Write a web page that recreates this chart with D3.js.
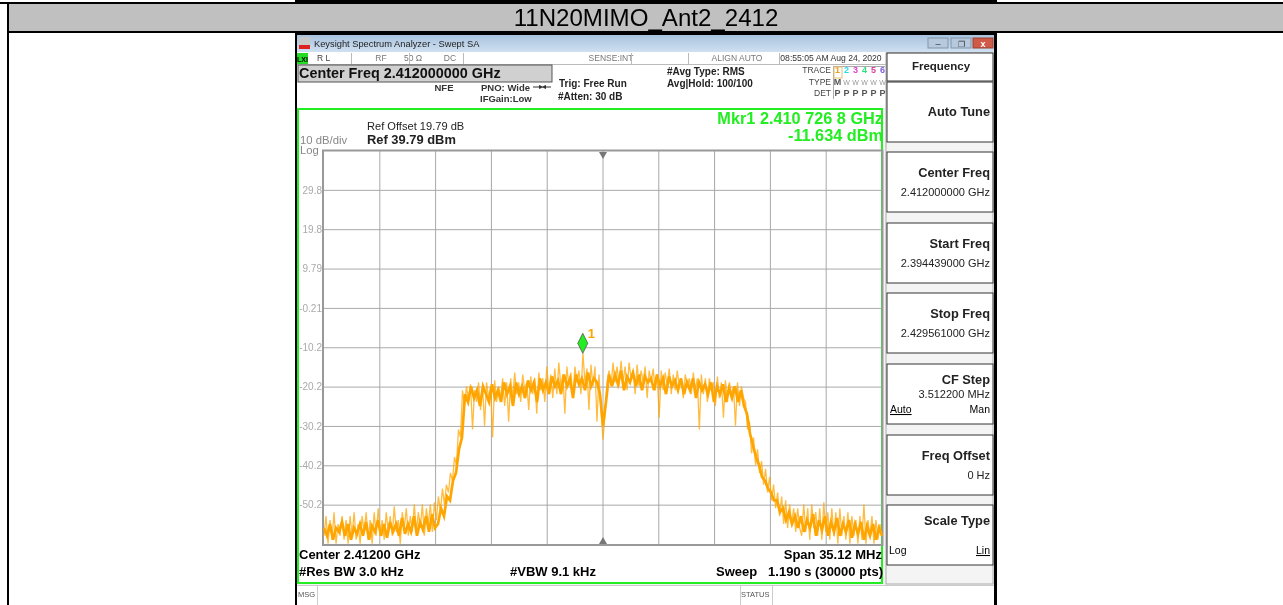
<!DOCTYPE html>
<html><head><meta charset="utf-8">
<script src="https://cdnjs.cloudflare.com/ajax/libs/d3/7.8.5/d3.min.js"></script>
<style>html,body{margin:0;padding:0;background:#fff;overflow:hidden}svg{display:block;filter:blur(0.3px)}text{font-family:"Liberation Sans",Arial,sans-serif;white-space:pre}</style>
</head><body><svg id="c" width="1283" height="605"></svg>
<script>
const chartTitle="11N20MIMO_Ant2_2412";
const yTickValues=[29.79,19.79,9.79,-0.21,-10.21,-20.21,-30.21,-40.21,-50.21];
const yTickLabels=["29.8","19.8","9.79","-0.21","-10.2","-20.2","-30.2","-40.2","-50.2"];
const xTickMHz=[2397.952,2401.464,2404.976,2408.488,2412,2415.512,2419.024,2422.536,2426.048];
const softKeys=[["Auto Tune",""],["Center Freq","2.412000000 GHz"],["Start Freq","2.394439000 GHz"],["Stop Freq","2.429561000 GHz"],["CF Step","3.512200 MHz"],["Freq Offset","0 Hz"],["Scale Type",""]];
const markerMHz=2410.7268, markerDb=-11.634;
const floorLeft=[-58,-53,-60,-54,-59,-52,-60,-55,-58,-53,-59,-54,-60,-53,-58,-52,-59,-55,-60,-53,-57,-52,-59,-54,-60,-52,-58,-51,-58,-54,-59,-52,-57,-53,-58,-50.5,-57,-54,-60,-52,-56,-51,-58,-53,-57,-50,-57,-52,-56,-50,-58,-51,-55,-50,-57,-49.5];
const riseLeft=[-54,-48,-52,-46,-50,-45,-47,-42,-44,-38,-40,-31,-33];
const plateau=[-21,-25,-20,-24,-19.5,-31,-21,-24,-19,-26,-20,-30,-19,-23,-20,-33,-18.5,-24,-20,-23,-18,-25,-19,-29,-18,-23,-16.5,-22,-19,-24,-17,-21,-19,-26,-17.5,-22,-18,-27,-16.5,-21,-18,-24,-15,-21,-17,-23,-15.5,-22,-14,-20,-17,-27,-15,-20,-16.5,-23,-15,-19,-16,-22,-11.634,-19,-15.5,-26,-14.5,-20,-15,-29,-17,-26,-33.6,-27,-19,-16,-20,-14,-19,-15,-20,-13.5,-19,-15,-21,-14,-18,-16,-22,-14.5,-20,-16,-19,-15,-23,-16,-19,-15.5,-21,-17,-28,-16,-21,-16.5,-20,-15.5,-22,-17,-21,-16,-20,-18,-23,-17,-20,-18,-22,-16.5,-21,-18,-31,-17,-22,-18,-24,-18,-21,-19,-25,-17.5,-23,-19,-28,-18.5,-24,-19,-22,-20,-30,-19,-25,-20,-23];
const fallRight=[-24,-31,-29,-37,-33,-40,-36,-42,-39,-45,-41,-47,-43,-49,-45,-51,-47,-53,-48,-55,-49,-56,-50,-55,-51,-57,-51,-56];
const floorRight=[-58,-50,-57,-51,-59,-50,-56,-52,-58,-51,-59,-49.5,-57,-52,-59,-51,-58,-52,-60,-51,-58,-53,-59,-52,-60,-53,-58,-54,-60,-53,-59,-50,-60,-54,-58,-53,-60,-54,-59,-55,-58];
const traceDb=[...floorLeft,...riseLeft,...plateau,...fallRight,...floorRight];
// a second, narrower reading of the trace's dense core
const coreFloorLeft=[-56,-58,-55,-59,-56,-57,-54.5,-58,-55,-59,-56,-57.5,-55,-58,-54.5,-59,-55.5,-57,-54,-58,-55,-58.5,-54.5,-57,-55,-58,-53.5,-57.5,-55,-57,-53,-58,-54.5,-56.5,-53,-57,-52.5,-56];
const coreRise=[-55,-51,-53,-48,-49,-44,-42,-36,-33];
const corePlateau=[-22,-24,-20,-23,-21,-25,-20,-22,-24,-19.5,-23,-21,-24,-19,-22,-20,-25,-19,-22,-20,-23,-18.5,-21,-19,-24,-18,-21,-19,-22,-17.5,-20,-18.5,-22,-17,-20,-18,-23,-17,-19.5,-18,-21,-16.5,-20,-18,-19,-22,-30,-24,-17,-20,-17,-19.5,-16,-21,-17.5,-19,-16.5,-20,-17,-21,-17.5,-19,-18,-21,-17,-20,-18,-22,-17.5,-20,-18.5,-21,-18,-22,-19,-21,-18,-23,-19,-21,-19.5,-22,-19,-24,-20,-22,-19.5,-24,-20.5,-23,-20,-24,-21,-25];
const coreFall=[-27,-32,-35,-38,-40,-43,-44,-46,-47,-49,-49,-52,-51,-54,-52,-55,-53,-56];
const coreFloorRight=[-53,-57,-54,-56,-52.5,-58,-54,-56.5,-53,-58,-54.5,-57,-53.5,-58,-55,-57,-54,-58.5,-55,-57.5,-54.5,-59,-55.5,-58,-55,-59,-56,-58];
const coreDb=[...coreFloorLeft,...coreRise,...corePlateau,...coreFall,...coreFloorRight];
const startMHz=2394.439, stopMHz=2429.561, refDb=39.79, botDb=-60.21;

const svg=d3.select("#c");
const R=(x,y,w,h,f,s,sw)=>svg.append("rect").attr("x",x).attr("y",y).attr("width",w).attr("height",h).attr("fill",f||"none").attr("stroke",s||"none").attr("stroke-width",sw||0);
const T=(x,y,t,o={})=>svg.append("text").attr("x",x).attr("y",y).text(t).attr("font-size",o.s||11).attr("font-weight",o.b?"bold":"normal").attr("fill",o.c||"#000").attr("text-anchor",o.a||"start").attr("text-decoration",o.u?"underline":null);

// page table
R(8,3,1275,28,"#c0c0c0");
R(0,2,1283,2,"#000"); R(8,31,1275,2,"#000"); R(7,2,2,603,"#000");
T(646,26,chartTitle,{s:24.1,a:"middle"});
// screenshot frame
R(295,0,702,2,"#000"); R(295,33,702,2,"#000");
R(295,33,2,572,"#000"); R(994,33,3,572,"#000");
R(297,35,697,570,"#f4f4f4");
// title bar
const g=svg.append("defs").append("linearGradient").attr("id","tb").attr("x1",0).attr("x2",0).attr("y1",0).attr("y2",1);
g.append("stop").attr("offset",0).attr("stop-color","#a9c3de"); g.append("stop").attr("offset",1).attr("stop-color","#cfe0f1");
R(297,35,697,17,"url(#tb)");
R(299,37,11,12,"#c9c9c9"); R(299,45,11,4,"#e02020");
T(314,47,"Keysight Spectrum Analyzer - Swept SA",{s:9.3,c:"#222"});
R(928,38,20,10,"#b7c9dc","#8296ab",1); R(951,38,20,10,"#b7c9dc","#8296ab",1); R(973,38,20,10,"#cf5a48","#9c4030",1);
T(938,47,"–",{s:9,a:"middle",c:"#333"}); T(961,47,"❐",{s:8,a:"middle",c:"#333"}); T(983,47,"x",{s:9,a:"middle",c:"#fff",b:1});
// status strip
R(297,52,697,13,"#ffffff");
R(297,64,590,1,"#bbb");
R(297,53,11,11,"#22dd22");
T(302.5,62,"LXI",{s:7,a:"middle",b:1});
T(317,61,"R L",{s:8.5,c:"#444"});
T(381,61,"RF",{s:8.5,a:"middle",c:"#777"});
T(413,61,"50 Ω",{s:8.5,a:"middle",c:"#777"}); T(450,61,"DC",{s:8.5,a:"middle",c:"#777"});
T(611,61,"SENSE:INT",{s:8.5,a:"middle",c:"#777"});
T(737,61,"ALIGN AUTO",{s:8.5,a:"middle",c:"#777"});
T(831,61,"08:55:05 AM Aug 24, 2020",{s:8.6,a:"middle",c:"#333"});
[351,409,463,631,688,779].forEach(x=>R(x,53,1,11,"#bbb"));
R(297,65,590,43,"#fff");
R(298,65,254,17,"#d0d0d0","#555",1);
T(299,78,"Center Freq 2.412000000 GHz",{s:14.4,b:1,c:"#111"});
T(444,91,"NFE",{s:9.5,a:"middle",b:1,c:"#333"});
T(481,91,"PNO: Wide",{s:9.5,b:1,c:"#333"}); T(480,102,"IFGain:Low",{s:9.5,b:1,c:"#333"});
svg.append("line").attr("x1",533).attr("x2",551).attr("y1",87).attr("y2",87).attr("stroke","#333");
svg.append("path").attr("d","M539,85L544,87L539,89Z M546,85L541,87L546,89Z").attr("fill","#333");
T(559,87,"Trig: Free Run",{s:10,b:1,c:"#222"}); T(558,100,"#Atten: 30 dB",{s:10,b:1,c:"#222"});
T(667,75,"#Avg Type: RMS",{s:10,b:1,c:"#222"}); T(667,87,"Avg|Hold: 100/100",{s:10,b:1,c:"#222"});
T(831,73,"TRACE",{s:8.5,a:"end",c:"#444"}); T(831,85,"TYPE",{s:8.5,a:"end",c:"#444"}); T(831,96,"DET",{s:8.5,a:"end",c:"#444"});
["#e8a020","#22ddee","#e040d0","#30e080","#e040a0","#8060e0"].forEach((c,i)=>{
 T(837.5+i*9,73,i+1,{s:9,a:"middle",c,b:1});
 T(837.5+i*9,96,"P",{s:9,a:"middle",c:"#555",b:1});
 T(837.5+i*9,85,i?"W":"M",{s:i?7:9,a:"middle",c:i?"#999":"#555",b:!i});
});
R(833,66,52,1,"#aaa"); R(833,66,1,33,"#aaa");R(834,67,8,11,"none","#e8c070",1);

// analyzer frame
R(298,109,584,474,"#fff","#22ee22",2);
T(367,130,"Ref Offset 19.79 dB",{s:11.1,c:"#222"});
T(367,144,"Ref 39.79 dBm",{s:12.9,b:1,c:"#222"});
T(300,144,"10 dB/div",{s:11.3,c:"#888"}); T(300,154,"Log",{s:11.3,c:"#888"});
T(883,124,"Mkr1 2.410 726 8 GHz",{s:16.3,b:1,c:"#22ee22",a:"end"});
T(883,141,"-11.634 dBm",{s:16.3,b:1,c:"#22ee22",a:"end"});

// plot
const x=d3.scaleLinear().domain([startMHz,stopMHz]).range([324,882]);
const y=d3.scaleLinear().domain([refDb,botDb]).range([151,544.5]);
const idx=d3.scaleLinear().domain([0,traceDb.length-1]).range([startMHz,stopMHz]);
const cidx=d3.scaleLinear().domain([0,coreDb.length-1]).range([startMHz,stopMHz]);
const gy=svg.append("g").attr("transform","translate(324,0)").call(d3.axisLeft(y).tickValues(yTickValues).tickFormat((d,i)=>yTickLabels[i]).tickSize(-558).tickPadding(2).offset(0));
const gx=svg.append("g").attr("transform","translate(0,544.5)").call(d3.axisBottom(x).tickValues(xTickMHz).tickFormat("").tickSize(-393.5).offset(0));
[gy,gx].forEach(a=>{a.select(".domain").remove();a.selectAll("line").attr("stroke","#a8a8a8").attr("stroke-width",1);});
gy.selectAll("text").attr("font-size",10).attr("fill","#aaa").attr("font-family",'"Liberation Sans",Arial,sans-serif');
R(323,150.5,559.5,394.5,"none","#999",2);
svg.append("path").datum(traceDb).attr("fill","none").attr("stroke","#ffa500").attr("stroke-width",1.3).attr("stroke-opacity",.75)
 .attr("d",d3.line().x((d,i)=>x(idx(i))).y(d=>y(d)));
svg.append("path").datum(coreDb).attr("fill","none").attr("stroke","#ffa500").attr("stroke-width",2.7)
 .attr("d",d3.line().x((d,i)=>x(cidx(i))).y(d=>y(d)));
// centre arrows
const cx=x(2412);
svg.append("path").attr("d",`M${cx-4},152L${cx+4},152L${cx},159Z`).attr("fill","#777");
svg.append("path").attr("d",`M${cx-4},544L${cx+4},544L${cx},537Z`).attr("fill","#777");
// marker
const mx=x(markerMHz),my=y(markerDb);
svg.append("path").attr("d",`M${mx},${my}L${mx+5},${my-10}L${mx},${my-20}L${mx-5},${my-10}Z`).attr("fill","#22ee22").attr("stroke","#555").attr("stroke-width",.8);
T(mx+5,my-15,"1",{s:13,b:1,c:"#ffa500"});
// bottom text
T(299,559,"Center 2.41200 GHz",{s:13,b:1}); T(299,576,"#Res BW 3.0 kHz",{s:13,b:1});
T(510,576,"#VBW 9.1 kHz",{s:13,b:1});
T(882,559,"Span 35.12 MHz",{s:13,b:1,a:"end"}); T(883,576,"Sweep   1.190 s (30000 pts)",{s:13,b:1,a:"end"});
// softkeys
R(886,53,107,531,"#f4f4f4","#aaa",1);
const boxY=[82,152,223,293,364,435,505], boxH=60;
R(887,53,106,28,"#fff","#333",1); T(941,70,"Frequency",{s:11.5,b:1,a:"middle",c:"#222"});
softKeys.forEach((k,i)=>{R(887,boxY[i],106,boxH,"#fff","#333",1);
 const big=i==0?34:i==4?20:i==6?20:25;
 T(990,boxY[i]+big,k[0],{s:12.8,b:1,a:"end",c:"#222"});
 if(k[1]) T(990,boxY[i]+(i==4?34:44),k[1],{s:11,a:"end",c:"#222"});
});
T(890,413,"Auto",{s:10.5,u:1}); T(990,413,"Man",{s:10.5,a:"end"});
T(889,554,"Log",{s:10.5}); T(990,554,"Lin",{s:10.5,a:"end",u:1});
// message row
R(297,585,697,20,"#fff"); R(297,585,697,1,"#ccc");
R(317,585,1,20,"#ccc"); R(740,585,1,20,"#ccc"); R(772,585,1,20,"#ccc");
T(298,597,"MSG",{s:7.5,c:"#555"}); T(741,597,"STATUS",{s:7.5,c:"#555"});
</script></body></html>
